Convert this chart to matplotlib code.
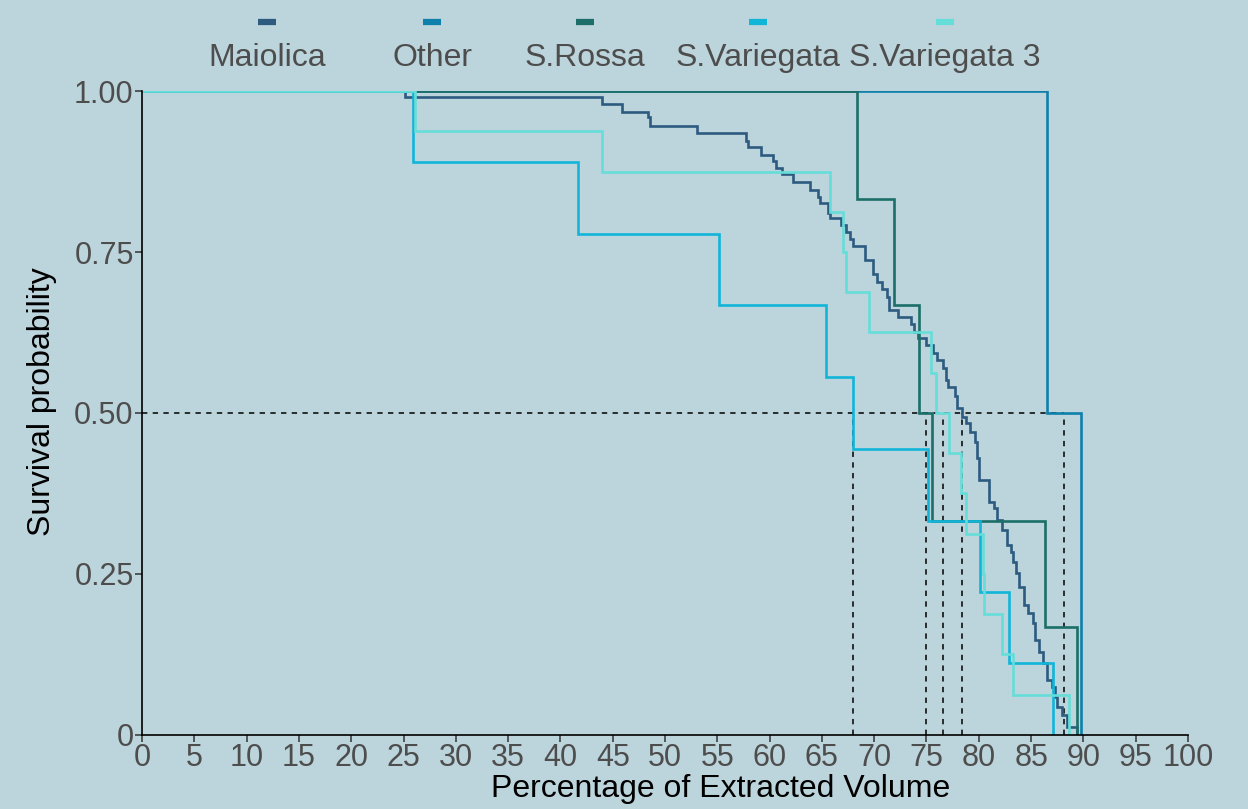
import numpy as np
import matplotlib
matplotlib.use("Agg")
import matplotlib.pyplot as plt
from matplotlib.lines import Line2D

plt.rcParams["font.family"] = ["Liberation Sans", "DejaVu Sans"]

# Kaplan-Meier step curves: event times (% extracted volume) and survival after each event
groups = ["Maiolica", "Other", "S.Rossa", "S.Variegata", "S.Variegata 3"]
colors = ["#2d5b7f", "#0e80ab", "#1c6e68", "#10b5d8", "#65ddd9"]

maiolica_t = [25.1, 44.0, 45.9, 48.4, 48.6, 53.1, 57.7, 57.9, 59.2, 60.3, 60.6, 61.2,
              62.2, 63.9, 64.6, 64.8, 65.6, 65.8, 66.8, 67.3, 67.7, 68.0, 69.1, 69.9,
              70.3, 70.7, 71.2, 71.4, 72.3, 73.5, 73.8, 74.2, 75.0, 75.6, 76.0, 76.6,
              76.9, 77.1, 77.7, 77.9, 78.4, 78.8, 79.2, 79.6, 79.8, 80.0, 81.0, 81.5,
              81.7, 82.2, 82.7, 83.1, 83.3, 83.6, 83.8, 84.3, 84.7, 85.2, 85.4, 85.8,
              86.1, 86.5, 87.0, 87.3, 87.5, 88.0, 88.4, 89.4]
maiolica_s = [0.991, 0.980, 0.967, 0.960, 0.946, 0.935, 0.922, 0.913, 0.901, 0.891, 0.880,
              0.871, 0.859, 0.846, 0.835, 0.826, 0.811, 0.803, 0.792, 0.781, 0.770, 0.759,
              0.738, 0.716, 0.703, 0.693, 0.680, 0.660, 0.649, 0.638, 0.626, 0.616, 0.606,
              0.593, 0.582, 0.570, 0.551, 0.540, 0.526, 0.508, 0.494, 0.484, 0.470, 0.455,
              0.430, 0.396, 0.362, 0.352, 0.334, 0.318, 0.295, 0.284, 0.269, 0.252, 0.230,
              0.202, 0.189, 0.174, 0.148, 0.129, 0.112, 0.085, 0.075, 0.059, 0.043, 0.031,
              0.012, 0.0]

other_t = [86.5, 89.8]
other_s = [0.5, 0.0]

rossa_t = [68.4, 71.9, 74.3, 75.5, 86.3, 89.4]
rossa_s = [0.833, 0.667, 0.5, 0.333, 0.167, 0.0]

variegata_t = [25.9, 41.7, 55.2, 65.4, 68.0, 75.1, 80.1, 82.9, 87.1]
variegata_s = [0.889, 0.778, 0.667, 0.556, 0.444, 0.333, 0.222, 0.111, 0.0]

variegata3_t = [26.1, 44.0, 65.8, 67.0, 67.3, 69.5, 75.4, 75.9, 77.2, 78.3, 78.8,
                80.4, 80.5, 82.2, 83.3, 88.6]
variegata3_s = [0.9375, 0.875, 0.8125, 0.75, 0.6875, 0.625, 0.5625, 0.5, 0.4375,
                0.375, 0.3125, 0.25, 0.1875, 0.125, 0.0625, 0.0]

# median survival per group
medians = [78.4, 88.1, 75.0, 68.0, 76.6]

curves = [(maiolica_t, maiolica_s), (other_t, other_s), (rossa_t, rossa_s),
          (variegata_t, variegata_s), (variegata3_t, variegata3_s)]

bg = "#bcd4db"
fig = plt.figure(figsize=(12.48, 8.09), dpi=100, facecolor=bg)
ax = fig.add_axes([0.1138, 0.0915, 0.8381, 0.796])
ax.set_facecolor(bg)

for (t, s), c in zip(curves, colors):
    tt = np.concatenate([[0.0], t])
    ss = np.concatenate([[1.0], s])
    ax.step(tt, ss, where="post", color=c, linewidth=1.9, solid_joinstyle="miter")

# median reference lines
ax.plot([0, max(medians)], [0.5, 0.5], color="black", linestyle=(0, (3.5, 3.5)),
        linewidth=1.1, zorder=1)
for m in medians:
    ax.plot([m, m], [0, 0.5], color="black", linestyle=(0, (3.5, 3.5)),
            linewidth=1.1, zorder=1)

ax.set_xlim(0, 100)
ax.set_ylim(0, 1)
ax.set_xticks(np.arange(0, 101, 5))
ax.set_yticks([0, 0.25, 0.5, 0.75, 1.0])
ax.set_yticklabels(["0", "0.25", "0.50", "0.75", "1.00"])
ax.tick_params(axis="both", labelsize=22, labelcolor="#4d4d4d", color="#333333",
               length=5, width=1.1, pad=1)
for side in ["top", "right"]:
    ax.spines[side].set_visible(False)
for side in ["left", "bottom"]:
    ax.spines[side].set_linewidth(1.2)
    ax.spines[side].set_color("black")

ax.set_xlabel("Percentage of Extracted Volume", fontsize=23, color="black")
ax.set_ylabel("Survival probability", fontsize=23, color="black")
ax.xaxis.set_label_coords(0.5535, -0.060)
ax.yaxis.set_label_coords(-0.081, 0.517)

# legend along the top: key above each label
key_x = [267, 432, 585, 758, 945]
W, H = 1248, 809
for g, c, kx in zip(groups, colors, key_x):
    fx = kx / W
    fig.add_artist(Line2D([fx - 9 / W, fx + 9 / W], [1 - 22 / H, 1 - 22 / H],
                          color=c, linewidth=4.5, solid_capstyle="butt"))
    fig.text(fx, 1 - 58 / H, g, ha="center", va="center", fontsize=23, color="#4d4d4d")

fig.savefig("out.png", dpi=100, facecolor=bg)
